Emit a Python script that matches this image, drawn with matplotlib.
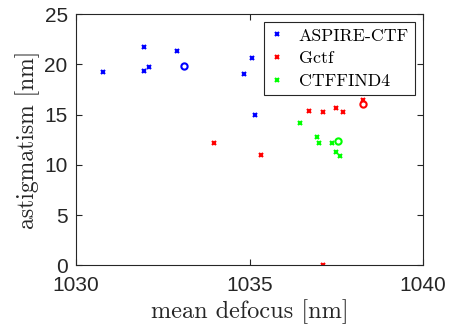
import matplotlib
matplotlib.use("Agg")
import matplotlib.pyplot as plt

plt.rcParams['font.family'] = ['Liberation Sans', 'DejaVu Sans']
plt.rcParams['axes.unicode_minus'] = False

aspire_x = [1030.78, 1031.95, 1031.96, 1032.10, 1032.90, 1034.84, 1035.07, 1035.15]
aspire_y = [19.26, 21.72, 19.36, 19.76, 21.35, 19.03, 20.60, 14.99]
aspire_mean = (1033.12, 19.80)

gctf_x = [1033.97, 1035.34, 1036.71, 1037.11, 1037.49, 1037.69, 1038.27, 1037.11]
gctf_y = [12.14, 11.00, 15.32, 15.25, 15.68, 15.28, 16.48, 0.0]
gctf_mean = (1038.27, 16.05)

ctffind_x = [1039.24, 1036.45, 1036.95, 1036.99, 1037.38, 1037.48, 1037.60]
ctffind_y = [17.31, 14.16, 12.77, 12.17, 12.20, 11.24, 10.88]
ctffind_mean = (1037.54, 12.34)

series = [
    ("ASPIRE-CTF", aspire_x, aspire_y, aspire_mean, "#0000ff"),
    ("Gctf", gctf_x, gctf_y, gctf_mean, "#ff0000"),
    ("CTFFIND4", ctffind_x, ctffind_y, ctffind_mean, "#00ff00"),
]

serif = ['cmr10', 'DejaVu Serif']

fig = plt.figure(figsize=(4.58, 3.27), dpi=100)
ax = fig.add_axes([76/458, 1-265.3/327, (423-76)/458, (265.3-14)/327])

for name, xs, ys, mean, c in series:
    ax.plot(xs, ys, linestyle='none', marker='x', markersize=3, markeredgewidth=1.5,
            color=c, label=name)
    ax.plot([mean[0]], [mean[1]], linestyle='none', marker='o', markersize=4.5,
            markerfacecolor='none', markeredgewidth=1.5, color=c)

ax.set_xlim(1030, 1040)
ax.set_ylim(0, 25)
ax.set_xticks([1030, 1035, 1040])
ax.set_yticks([0, 5, 10, 15, 20, 25])
ax.tick_params(direction='in', top=True, right=True, labelsize=15, length=4,
               width=0.8, colors='#262626', labelcolor='#262626')
ax.tick_params(axis='x', pad=8)
ax.tick_params(axis='y', pad=6)
for s in ax.spines.values():
    s.set_color('#262626')
    s.set_linewidth(0.8)

ax.set_xlabel('mean defocus [nm]', fontsize=17.5, color='#262626', labelpad=3,
              family=serif)
ax.set_ylabel('astigmatism [nm]', fontsize=17, color='#262626', labelpad=3,
              family=serif)

leg = ax.legend(loc='upper right', prop={'family': serif, 'size': 12.8},
                frameon=True, fancybox=False, edgecolor='#262626', framealpha=1,
                handlelength=0.8, handletextpad=0.8, borderpad=0.35, labelspacing=0.4,
                borderaxespad=0.45)
leg.get_frame().set_linewidth(0.8)

fig.savefig("out.png", dpi=100)
